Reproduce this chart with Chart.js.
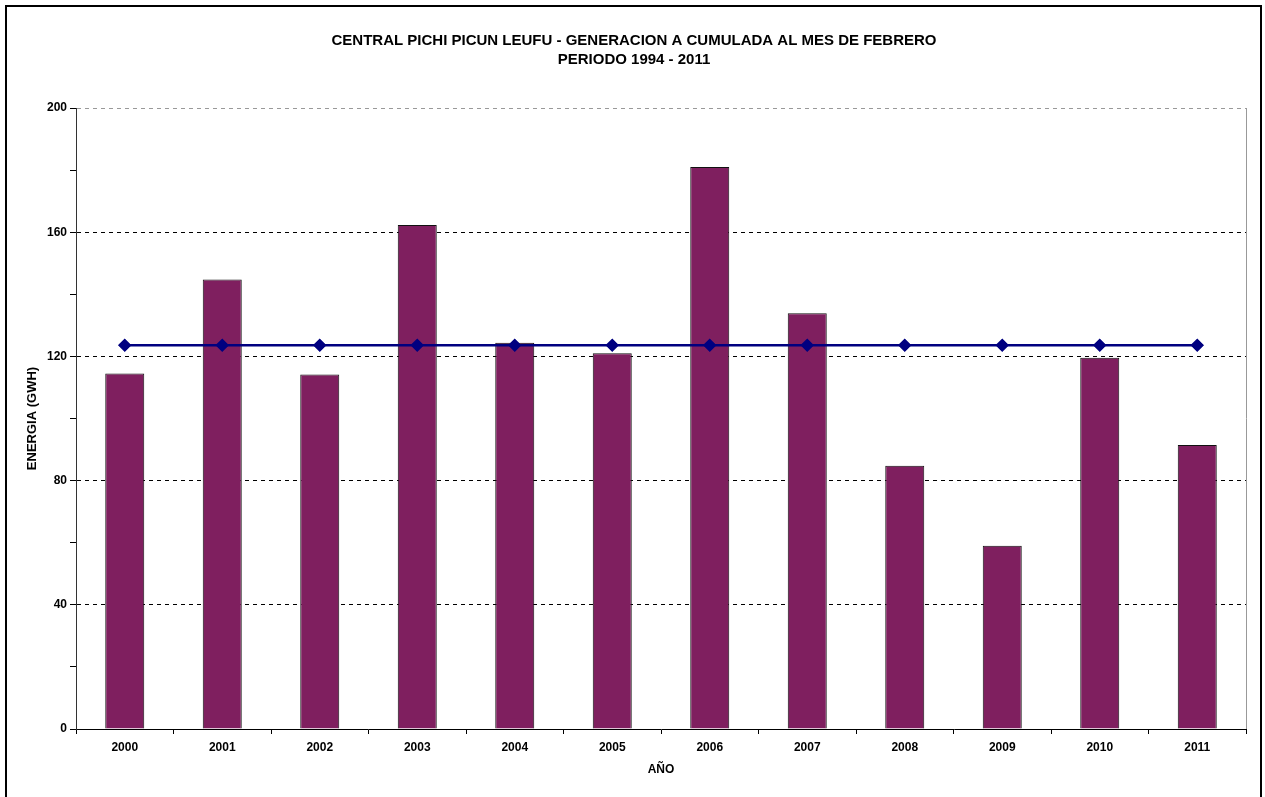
<!DOCTYPE html>
<html>
<head>
<meta charset="utf-8">
<script src="https://cdn.jsdelivr.net/npm/chart.js@4"></script>
<style>
  html, body { margin: 0; padding: 0; background: #fff; }
  #wrap { width: 1265px; height: 797px; position: relative; }
</style>
</head>
<body>
<div id="wrap"><canvas id="c" width="1265" height="797"></canvas></div>
<script>
const years = ['2000','2001','2002','2003','2004','2005','2006','2007','2008','2009','2010','2011'];
const energy = [114.5, 144.8, 114.2, 162.3, 124.4, 121.0, 181.0, 133.9, 84.8, 59.0, 119.6, 91.5];
const average = [123.6, 123.6, 123.6, 123.6, 123.6, 123.6, 123.6, 123.6, 123.6, 123.6, 123.6, 123.6];
const titleLines = ['CENTRAL PICHI PICUN LEUFU - GENERACION A CUMULADA AL MES DE FEBRERO', 'PERIODO 1994 - 2011'];
const yTitle = 'ENERGIA (GWH)';
const xTitle = 'AÑO';

const frame = {
  id: 'frame',
  afterDraw(chart) {
    const ctx = chart.ctx, a = chart.chartArea;
    ctx.save();
    ctx.strokeStyle = '#999';
    ctx.lineWidth = 1;
    ctx.beginPath();
    ctx.moveTo(a.right + 0.5, a.top);
    ctx.lineTo(a.right + 0.5, a.bottom);
    ctx.stroke();
    ctx.strokeStyle = '#000';
    ctx.lineWidth = 2;
    ctx.strokeRect(6, 6, chart.width - 10, chart.height + 20);
    ctx.restore();
  }
};

const fam = 'Arial, "Liberation Sans", sans-serif';
const tickFont = { family: fam, weight: 'bold', size: 12 };

new Chart(document.getElementById('c'), {
  data: {
    labels: years,
    datasets: [
      {
        type: 'line',
        data: average,
        borderColor: '#000080',
        backgroundColor: '#000080',
        borderWidth: 2.5,
        pointStyle: 'rectRot',
        pointRadius: 5,
        pointBackgroundColor: '#000080',
        pointBorderColor: '#000080',
        fill: false,
        order: 0
      },
      {
        type: 'bar',
        data: energy,
        backgroundColor: '#7F1F5F',
        borderColor: '#111',
        borderWidth: 1,
        barPercentage: 0.4,
        categoryPercentage: 1.0,
        order: 1
      }
    ]
  },
  options: {
    responsive: false,
    animation: false,
    layout: { padding: { left: 22, right: 19, top: 0, bottom: 0 } },
    plugins: {
      legend: { display: false },
      tooltip: { enabled: false },
      title: {
        display: true,
        text: titleLines,
        color: '#000',
        font: { family: fam, weight: 'bold', size: 15, lineHeight: 1.267 },
        padding: { top: 31.5, bottom: 38.5 }
      }
    },
    scales: {
      x: {
        offset: true,
        afterFit(s) { s.height = 68; },
        grid: {
          offset: true,
          drawOnChartArea: false,
          tickLength: 5,
          tickColor: '#000',
          color: '#000'
        },
        border: { display: true, color: '#000', width: 1 },
        ticks: { color: '#000', font: tickFont, padding: 6.5, maxRotation: 0 },
        title: {
          display: true,
          text: xTitle,
          color: '#000',
          font: tickFont,
          padding: { top: 0, bottom: 19.8 }
        }
      },
      y: {
        min: 0,
        max: 200,
        afterFit(s) { s.width = 54; },
        ticks: {
          stepSize: 20,
          color: '#000',
          font: tickFont,
          padding: 3,
          callback: (v) => (v % 40 === 0 ? v : '')
        },
        grid: {
          tickLength: 6,
          tickColor: '#000',
          color: (c) => {
            const v = c.tick ? c.tick.value : 0;
            if (v === 0) return 'rgba(0,0,0,0)';
            if (v === 200) return '#999';
            return v % 40 === 0 ? '#000' : 'rgba(0,0,0,0)';
          }
        },
        border: { display: true, color: '#333', width: 1, dash: [4, 4] },
        title: {
          display: true,
          text: yTitle,
          color: '#000',
          font: { family: fam, weight: 'bold', size: 13 },
          padding: { top: 2.2, bottom: 0 }
        }
      }
    }
  },
  plugins: [frame]
});
</script>
</body>
</html>
